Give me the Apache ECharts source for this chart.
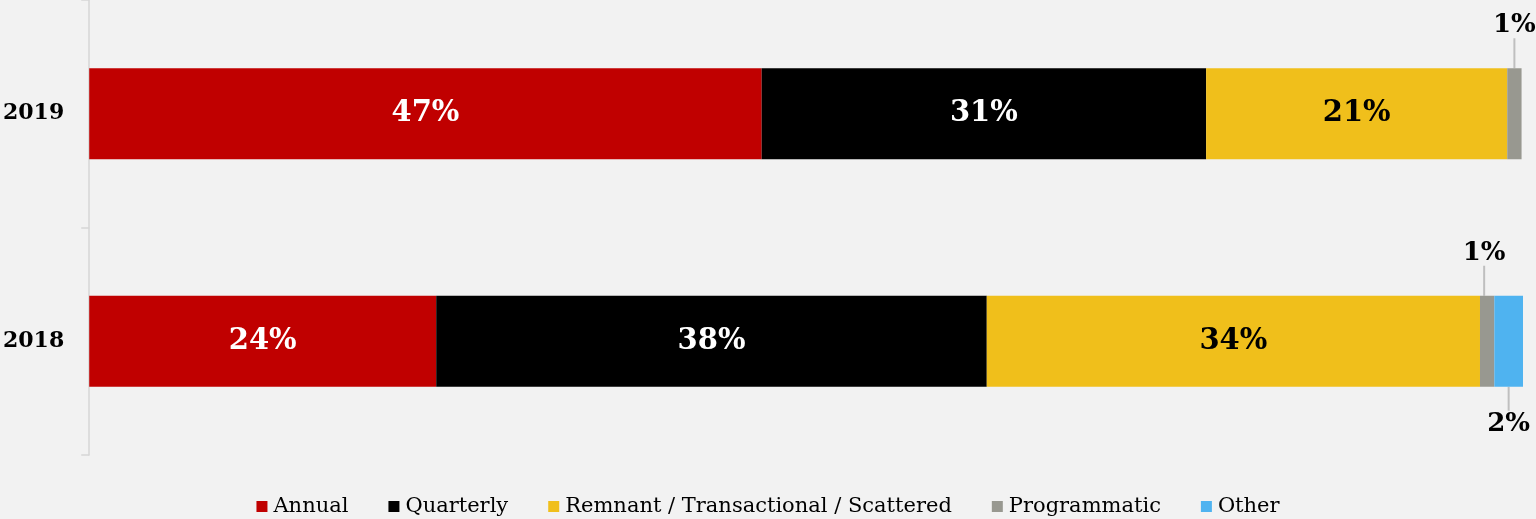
<!DOCTYPE html>
<html>
<head>
<meta charset="utf-8">
<script src="https://cdn.jsdelivr.net/npm/echarts@6/dist/echarts.min.js"></script>
<style>
  html, body { margin: 0; padding: 0; background: #f2f2f2; }
  #chart { width: 1536px; height: 519px; }
</style>
</head>
<body>
<div id="chart"></div>
<script>
  // categories, top to bottom
  const years = ['2019', '2018'];
  // shares in percent
  const annual = [46.9, 24.2];
  const quarterly = [31.0, 38.4];
  const remnant = [21.0, 34.4];
  const programmatic = [1.0, 1.0];
  const other = [0, 2.1];

  const serif = '"DejaVu Serif", Georgia, serif';

  function pct(p) {
    return p.value ? Math.round(p.value) + '%' : '';
  }

  function inside(color) {
    return {
      show: true,
      position: 'inside',
      color: color,
      fontFamily: serif,
      fontWeight: 'bold',
      fontSize: 29,
      formatter: pct
    };
  }

  // a zero share is left out, so it gets no label and no guide line
  function noZero(arr) {
    return arr.map(function (v) { return v ? v : '-'; });
  }

  const option = {
    backgroundColor: '#f2f2f2',
    animation: false,
    grid: { left: 89, right: 13, top: -5, bottom: 64 },
    legend: {
      bottom: -3,
      icon: 'rect',
      itemWidth: 11,
      itemHeight: 11,
      itemGap: 40,
      textStyle: { fontFamily: serif, fontSize: 21, color: '#000', padding: [0, 0, 0, 1] }
    },
    xAxis: {
      type: 'value',
      min: 0,
      max: 100,
      show: false
    },
    yAxis: {
      type: 'category',
      data: years,
      inverse: true,
      axisLine: { show: true, lineStyle: { color: '#d6d6d6', width: 1.5 } },
      axisTick: { show: true, length: 8, lineStyle: { color: '#d6d6d6', width: 1.5 } },
      axisLabel: {
        margin: 25,
        color: '#000',
        fontFamily: serif,
        fontWeight: 'bold',
        fontSize: 22
      }
    },
    series: [
      {
        name: 'Annual', type: 'bar', stack: 'a', barWidth: 91,
        itemStyle: { color: '#c00000' },
        label: inside('#fff'),
        data: annual
      },
      {
        name: 'Quarterly', type: 'bar', stack: 'a',
        itemStyle: { color: '#000000' },
        label: inside('#fff'),
        data: quarterly
      },
      {
        name: 'Remnant / Transactional / Scattered', type: 'bar', stack: 'a',
        itemStyle: { color: '#f0bf1b' },
        label: inside('#000'),
        data: remnant
      },
      {
        name: 'Programmatic', type: 'bar', stack: 'a',
        itemStyle: { color: '#989890' },
        label: {
          show: true,
          position: 'top',
          distance: 0,
          color: '#000',
          fontFamily: serif,
          fontWeight: 'bold',
          fontSize: 26,
          formatter: pct
        },
        labelLayout: function (params) {
          return { dy: -30, dx: params.dataIndex === 1 ? -3 : 0 };
        },
        labelLine: { show: true, lineStyle: { color: '#bfbfbf', width: 2 } },
        data: noZero(programmatic)
      },
      {
        name: 'Other', type: 'bar', stack: 'a',
        itemStyle: { color: '#4fb3f0' },
        label: {
          show: true,
          position: 'bottom',
          distance: 0,
          color: '#000',
          fontFamily: serif,
          fontWeight: 'bold',
          fontSize: 26,
          formatter: pct
        },
        labelLayout: { dy: 24 },
        labelLine: { show: true, lineStyle: { color: '#bfbfbf', width: 2 } },
        data: noZero(other)
      }
    ]
  };

  const myChart = echarts.init(document.getElementById('chart'));
  myChart.setOption(option);
</script>
</body>
</html>
